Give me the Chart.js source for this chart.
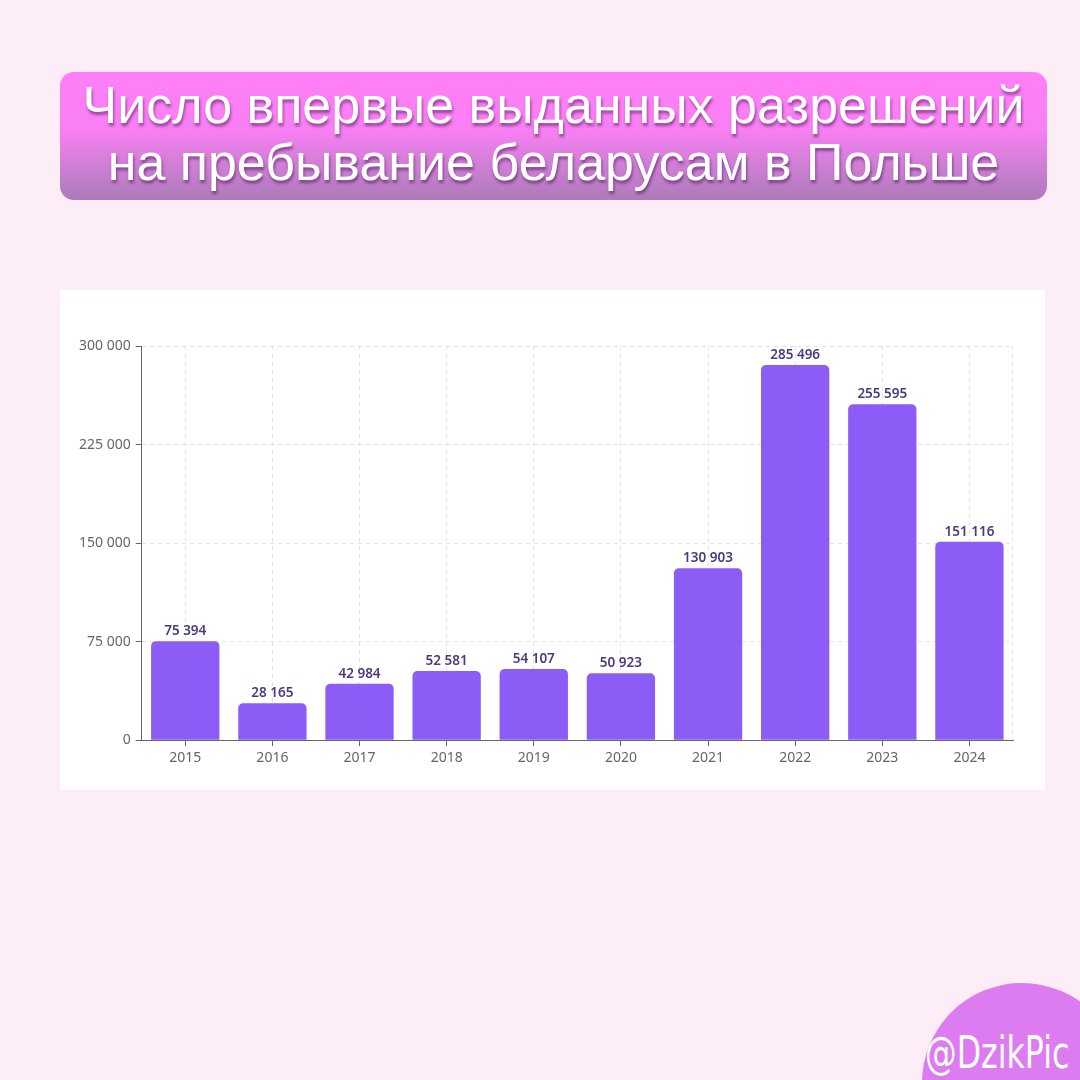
<!DOCTYPE html>
<html>
<head>
<meta charset="utf-8">
<script src="https://cdn.jsdelivr.net/npm/chart.js@4/dist/chart.umd.min.js"></script>
<style>
  html, body { margin: 0; padding: 0; }
  body {
    width: 1080px;
    height: 1080px;
    background: #fdedf6;
    position: relative;
    overflow: hidden;
    font-family: 'Noto Sans', 'Open Sans', sans-serif;
  }
  .title {
    position: absolute;
    left: 60px;
    top: 72px;
    width: 987px;
    height: 128px;
    border-radius: 14px;
    background: linear-gradient(to bottom, #ff7ff7 0%, #f97ff4 45%, #d07fd6 72%, #ad7ab9 100%);
    color: #fff;
    font-family: 'Liberation Sans', Arial, sans-serif;
    font-size: 52px;
    line-height: 57px;
    text-align: center;
    padding-top: 5px;
    box-sizing: border-box;
    text-shadow: 1px 3px 3px rgba(70, 20, 80, 0.55);
  }
  .panel {
    position: absolute;
    left: 60px;
    top: 290px;
    width: 985px;
    height: 500px;
    background: #fff;
  }
  .badge {
    position: absolute;
    left: 922px;
    top: 983px;
    width: 200px;
    height: 200px;
    border-radius: 50%;
    background: #dd7cf1;
  }
  .badge span {
    position: absolute;
    left: 3px;
    top: 44px;
    color: #fff;
    font-family: 'DejaVu Sans Condensed', 'Liberation Sans Narrow', sans-serif;
    font-size: 44px;
    white-space: nowrap;
    transform: scaleX(0.8);
    transform-origin: left center;
  }
</style>
</head>
<body>
<div class="title">Число впервые выданных разрешений<br>на пребывание беларусам в Польше</div>
<div class="panel"><canvas id="chart" width="985" height="500"></canvas></div>
<div class="badge"><span>@DzikPic</span></div>
<script>
(function () {
  'use strict';

  var years = ['2015', '2016', '2017', '2018', '2019', '2020', '2021', '2022', '2023', '2024'];
  var permits = [75394, 28165, 42984, 52581, 54107, 50923, 130903, 285496, 255595, 151116];
  var yTicks = [0, 75000, 150000, 225000, 300000];

  function formatNum(v) {
    return String(v).replace(/\B(?=(\d{3})+(?!\d))/g, ' ');
  }

  var valueLabels = {
    id: 'valueLabels',
    afterDatasetsDraw: function (chart) {
      var ctx = chart.ctx;
      var meta = chart.getDatasetMeta(0);
      ctx.save();
      ctx.font = '600 13.5px "Noto Sans", "Open Sans", sans-serif';
      ctx.fillStyle = '#4a3a7e';
      ctx.textAlign = 'center';
      ctx.textBaseline = 'bottom';
      meta.data.forEach(function (bar, i) {
        ctx.fillText(formatNum(permits[i]), bar.x, bar.y - 3);
      });
      ctx.restore();
    },
  };

  var rightEdge = {
    id: 'rightEdge',
    beforeDatasetsDraw: function (chart) {
      var a = chart.chartArea;
      var ctx = chart.ctx;
      ctx.save();
      ctx.strokeStyle = '#e3e3e3';
      ctx.lineWidth = 1;
      ctx.setLineDash([4, 4]);
      ctx.beginPath();
      ctx.moveTo(a.right - 0.5, a.top);
      ctx.lineTo(a.right - 0.5, a.bottom);
      ctx.stroke();
      ctx.restore();
    },
  };

  var tickFont = { family: '"Noto Sans", "Open Sans", sans-serif', size: 14 };

  new Chart(document.getElementById('chart'), {
    type: 'bar',
    data: {
      labels: years,
      datasets: [{
        data: permits,
        backgroundColor: '#8b5cf6',
        borderRadius: { topLeft: 5, topRight: 5 },
        borderSkipped: 'bottom',
        barPercentage: 0.98,
        categoryPercentage: 0.8,
      }],
    },
    options: {
      responsive: false,
      animation: false,
      devicePixelRatio: 1,
      layout: { padding: { left: 14, right: 32, top: 56, bottom: 21 } },
      plugins: {
        legend: { display: false },
        tooltip: { enabled: false },
      },
      scales: {
        x: {
          grid: {
            offset: false,
            color: '#e3e3e3',
            tickColor: '#666',
            tickLength: 6,
            tickBorderDash: [],
          },
          border: { color: '#666', width: 1, dash: [4, 4] },
          ticks: {
            color: '#666',
            font: tickFont,
            padding: 3,
          },
        },
        y: {
          min: 0,
          max: 300000,
          afterBuildTicks: function (axis) {
            axis.ticks = yTicks.map(function (v) { return { value: v }; });
          },
          grid: {
            color: '#e3e3e3',
            tickColor: '#666',
            tickLength: 6,
            tickBorderDash: [],
          },
          border: { color: '#666', width: 1, dash: [4, 4] },
          ticks: {
            color: '#666',
            font: tickFont,
            padding: 5,
            callback: function (v) { return formatNum(v); },
          },
        },
      },
    },
    plugins: [rightEdge, valueLabels],
  });
})();
</script>
</body>
</html>
